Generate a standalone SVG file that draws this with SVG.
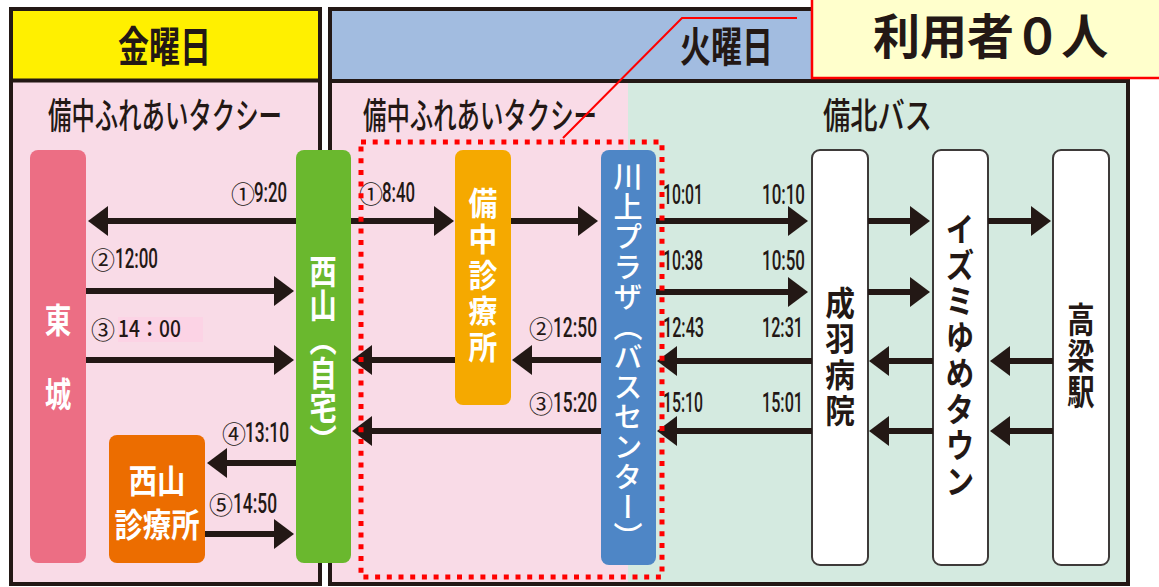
<svg xmlns="http://www.w3.org/2000/svg" width="1159" height="587" viewBox="0 0 1159 587">
<style>
.jp{font-family:"Noto Sans CJK JP","Noto Sans",sans-serif;}
.hd{font-family:"Noto Sans CJK JP",sans-serif;font-weight:700;fill:#231815;}
.sub{font-family:"Noto Sans CJK JP",sans-serif;font-weight:500;fill:#231815;}
.vt{font-family:"Noto Sans CJK JP",sans-serif;writing-mode:vertical-rl;text-anchor:middle;}
.w{fill:#fff;}
.d{fill:#231815;}
.tm{font-family:Roboto,"Liberation Sans",sans-serif;font-weight:500;font-size:28px;fill:#231815;}
.cn{font-family:"Noto Sans CJK JP",sans-serif;font-size:24px;fill:#231815;}
.ar{stroke:#231815;stroke-width:6;fill:none;marker-end:url(#ah);}
.bx{stroke:#3e3a39;stroke-width:2;fill:#fff;}
</style>
<defs>
<marker id="ah" markerUnits="userSpaceOnUse" viewBox="0 0 20 30" refX="12" refY="15" markerWidth="20" markerHeight="30" orient="auto">
<path d="M0,0 L20,15 L0,30 Z" fill="#231815"/>
</marker>
</defs>
<rect width="1159" height="587" fill="#fff"/>
<g id="panel-fri">
<rect x="11" y="9" width="309" height="71" fill="#FFF000"/>
<rect x="11" y="80" width="309" height="504" fill="#F9DBE7"/>
<rect x="11" y="9" width="309" height="575" fill="none" stroke="#231815" stroke-width="4"/>
<line x1="11" y1="80.5" x2="320" y2="80.5" stroke="#231815" stroke-width="4"/>
<g transform="translate(118 0) scale(0.738 1)"><text class="hd" x="0" y="62" font-size="42">金曜日</text></g>
<g transform="translate(48 0) scale(0.65 1)"><text class="sub" x="0" y="129" font-size="36">備中ふれあいタクシー</text></g>
</g>
<g id="panel-tue">
<rect x="330" y="9" width="798" height="71" fill="#A2BCE0"/>
<rect x="330" y="80" width="298" height="504" fill="#F9DBE7"/>
<rect x="628" y="80" width="500" height="504" fill="#D4EAE0"/>
<rect x="330" y="9" width="798" height="575" fill="none" stroke="#231815" stroke-width="4"/>
<line x1="330" y1="81" x2="1128" y2="81" stroke="#231815" stroke-width="4"/>
<g transform="translate(680 0) scale(0.738 1)"><text class="hd" x="0" y="62" font-size="42">火曜日</text></g>
<g transform="translate(363 0) scale(0.65 1)"><text class="sub" x="0" y="129" font-size="36">備中ふれあいタクシー</text></g>
<g transform="translate(823 0) scale(0.757 1)"><text class="sub" x="0" y="129" font-size="36">備北バス</text></g>
</g>
<g id="node-tojo">
<rect x="30" y="150" width="56" height="413" rx="8" fill="#EC6E84"/>
<g transform="translate(58 0) scale(0.78 1)">
<text class="jp w" x="0" y="333" font-size="34" font-weight="700" text-anchor="middle">東</text>
<text class="jp w" x="0" y="407" font-size="34" font-weight="700" text-anchor="middle">城</text>
</g>
</g>
<g id="node-nishiyama-home">
<rect x="296" y="150" width="55" height="413" rx="8" fill="#6AB82E"/>
<g transform="translate(323 0) scale(0.8 1)">
<text class="vt w" x="0" y="356" font-size="34" font-weight="700">西山（自宅）</text>
</g>
</g>
<g id="node-nishiyama-clinic">
<rect x="109" y="435" width="96" height="128" rx="8" fill="#EC6D00"/>
<g transform="translate(157 0) scale(0.86 1)">
<text class="jp w" x="0" y="493" font-size="33" font-weight="700" text-anchor="middle">西山</text>
<text class="jp w" x="0" y="537" font-size="33" font-weight="700" text-anchor="middle">診療所</text>
</g>
</g>
<g id="node-bitchu-clinic">
<rect x="455" y="150" width="56" height="255" rx="8" fill="#F5A900"/>
<g transform="translate(483 0) scale(0.9 1)">
<text class="vt w" x="0" y="277" font-size="32" font-weight="700" letter-spacing="4">備中診療所</text>
</g>
</g>
<g id="node-kawakami">
<rect x="601" y="150" width="55" height="415" rx="8" fill="#4E86C6"/>
<text class="vt w" x="628" y="357" font-size="29" font-weight="500" letter-spacing="1">川上プラザ（バスセンター）</text>
</g>
<g id="node-nariwa">
<rect class="bx" x="812" y="150" width="56" height="415" rx="8"/>
<g transform="translate(840 0) scale(0.9 1)">
<text class="vt d" x="0" y="358" font-size="33" font-weight="700" letter-spacing="3">成羽病院</text>
</g>
</g>
<g id="node-izumi">
<rect class="bx" x="933" y="150" width="55" height="415" rx="8"/>
<g transform="translate(960 0) scale(0.85 1)">
<text class="vt d" x="0" y="356" font-size="34" font-weight="700" letter-spacing="2">イズミゆめタウン</text>
</g>
</g>
<g id="node-takahashi">
<rect class="bx" x="1053" y="150" width="56" height="415" rx="8"/>
<g transform="translate(1081 0) scale(0.78 1)">
<text class="vt d" x="0" y="356" font-size="35" font-weight="700" letter-spacing="1">高梁駅</text>
</g>
</g>
<g id="connectors">
<path class="ar" d="M296,221 H96"/>
<path class="ar" d="M86,291 H286"/>
<path class="ar" d="M86,360 H286"/>
<path class="ar" d="M296,463 H215"/>
<path class="ar" d="M205,534 H286"/>
<path class="ar" d="M351,221 H446"/>
<path class="ar" d="M511,221 H590"/>
<path class="ar" d="M455,360 H360"/>
<path class="ar" d="M601,360 H520"/>
<path class="ar" d="M601,431 H360"/>
<path class="ar" d="M656,221 H800"/>
<path class="ar" d="M868,221 H922"/>
<path class="ar" d="M988,221 H1043"/>
<path class="ar" d="M656,292 H800"/>
<path class="ar" d="M868,292 H922"/>
<path class="ar" d="M812,361 H665"/>
<path class="ar" d="M933,361 H877"/>
<path class="ar" d="M1053,361 H998"/>
<path class="ar" d="M812,431 H665"/>
<path class="ar" d="M933,431 H877"/>
<path class="ar" d="M1053,431 H998"/>
</g>
<g id="labels">
<text class="cn" x="231" y="203">①</text><text class="tm" x="254" y="202" textLength="33" lengthAdjust="spacingAndGlyphs">9:20</text>
<text class="cn" x="91" y="269">②</text><text class="tm" x="115" y="268" textLength="43" lengthAdjust="spacingAndGlyphs">12:00</text>
<rect x="118" y="317" width="85" height="25" fill="#FCD3E5"/>
<text class="cn" x="91" y="339">③</text><text class="jp" x="118" y="337" font-size="23" font-weight="500" fill="#231815" textLength="63" lengthAdjust="spacingAndGlyphs">14：00</text>
<text class="cn" x="222" y="443">④</text><text class="tm" x="245" y="442" textLength="44" lengthAdjust="spacingAndGlyphs">13:10</text>
<text class="cn" x="209" y="514">⑤</text><text class="tm" x="233" y="513" textLength="44" lengthAdjust="spacingAndGlyphs">14:50</text>
<text class="cn" x="359" y="203">①</text><text class="tm" x="382" y="202" textLength="33" lengthAdjust="spacingAndGlyphs">8:40</text>
<text class="cn" x="529" y="338">②</text><text class="tm" x="553" y="337" textLength="44" lengthAdjust="spacingAndGlyphs">12:50</text>
<text class="cn" x="529" y="413">③</text><text class="tm" x="553" y="412" textLength="44" lengthAdjust="spacingAndGlyphs">15:20</text>
<text class="tm" x="663" y="204" textLength="40" lengthAdjust="spacingAndGlyphs">10:01</text>
<text class="tm" x="762" y="204" textLength="43" lengthAdjust="spacingAndGlyphs">10:10</text>
<text class="tm" x="663" y="270" textLength="40" lengthAdjust="spacingAndGlyphs">10:38</text>
<text class="tm" x="762" y="270" textLength="43" lengthAdjust="spacingAndGlyphs">10:50</text>
<text class="tm" x="663" y="337" textLength="41" lengthAdjust="spacingAndGlyphs">12:43</text>
<text class="tm" x="762" y="337" textLength="41" lengthAdjust="spacingAndGlyphs">12:31</text>
<text class="tm" x="663" y="412" textLength="40" lengthAdjust="spacingAndGlyphs">15:10</text>
<text class="tm" x="762" y="412" textLength="41" lengthAdjust="spacingAndGlyphs">15:01</text>
</g>
<g id="highlight">
<rect x="361" y="142" width="301" height="435" fill="none" stroke="#FF0000" stroke-width="5" stroke-dasharray="5 6.7"/>
<polyline points="797,18 682,18 563,138" fill="none" stroke="#FF0000" stroke-width="2"/>
</g>
<g id="callout">
<rect x="812" y="-3" width="350" height="81" fill="#FFFFCC" stroke="#FF0000" stroke-width="2.5"/>
<g transform="translate(873 0) scale(0.98 1)"><text class="hd" x="0" y="54" font-size="48" fill="#000">利用者０人</text></g>
</g>
</svg>
